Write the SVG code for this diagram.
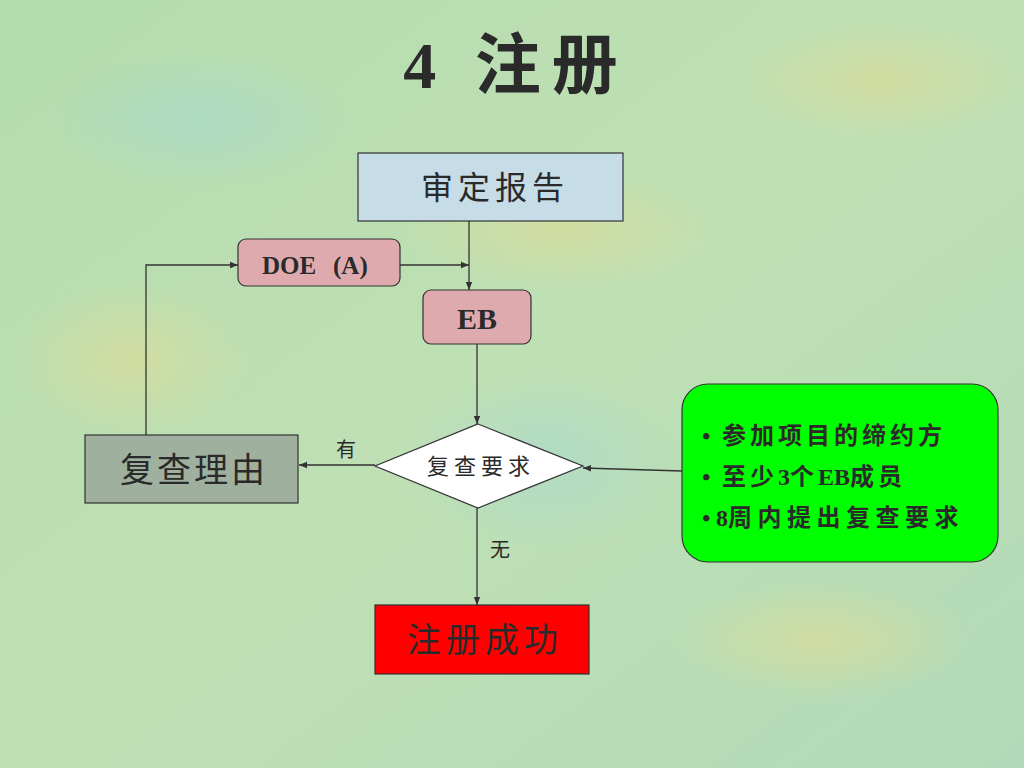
<svg xmlns="http://www.w3.org/2000/svg" width="1024" height="768" viewBox="0 0 1024 768">
<defs>
<linearGradient id="bg" x1="0" y1="0" x2="1" y2="1">
<stop offset="0" stop-color="#b4dcae"/>
<stop offset="0.5" stop-color="#bfe0b4"/>
<stop offset="1" stop-color="#b2dab8"/>
</linearGradient>
<radialGradient id="y1"><stop offset="0" stop-color="#d8dc9c" stop-opacity="0.8"/><stop offset="1" stop-color="#d8dc9c" stop-opacity="0"/></radialGradient>
<radialGradient id="b1"><stop offset="0" stop-color="#a8d8d0" stop-opacity="0.6"/><stop offset="1" stop-color="#a8d8d0" stop-opacity="0"/></radialGradient>
<marker id="ah" viewBox="0 0 10 10" refX="10" refY="5" markerWidth="8" markerHeight="8" markerUnits="userSpaceOnUse" orient="auto">
<path d="M0,1 L10,5 L0,9 z" fill="#333"/>
</marker>
<style>
.t{font-family:"Liberation Serif","Noto Sans CJK SC",serif;fill:#2a2a2a;text-anchor:middle}
.b{font-weight:bold}
.ln{stroke:#333;stroke-width:1.3;fill:none}
.box{stroke:#333;stroke-width:1.2}
.g{font-family:"Liberation Serif","Noto Sans CJK SC",serif;font-weight:bold;fill:#2a2a2a;font-size:24px}
.cj{letter-spacing:4px}
</style>
</defs>
<rect width="1024" height="768" fill="url(#bg)"/>
<ellipse cx="560" cy="230" rx="160" ry="60" fill="url(#y1)"/>
<ellipse cx="130" cy="360" rx="120" ry="80" fill="url(#y1)"/>
<ellipse cx="820" cy="640" rx="150" ry="60" fill="url(#y1)"/>
<ellipse cx="880" cy="80" rx="150" ry="60" fill="url(#y1)"/>
<ellipse cx="540" cy="460" rx="140" ry="90" fill="url(#b1)"/>
<ellipse cx="200" cy="120" rx="150" ry="70" fill="url(#b1)"/>

<text class="t b" x="516" y="88" font-size="66" letter-spacing="11">4  注册</text>

<g id="connectors">
<line class="ln" x1="469" y1="221" x2="469" y2="290" marker-end="url(#ah)"/>
<line class="ln" x1="400" y1="265" x2="469" y2="265" marker-end="url(#ah)"/>
<polyline class="ln" points="146,435 146,265 238,265" marker-end="url(#ah)"/>
<line class="ln" x1="477" y1="344" x2="477" y2="424" marker-end="url(#ah)"/>
<line class="ln" x1="375" y1="465" x2="299" y2="465" marker-end="url(#ah)"/>
<line class="ln" x1="682" y1="471" x2="583" y2="468" marker-end="url(#ah)"/>
<line class="ln" x1="477" y1="508" x2="477" y2="605" marker-end="url(#ah)"/>
<text class="t" x="346" y="457" font-size="20">有</text>
<text class="t" x="500" y="557" font-size="20">无</text>
</g>

<g id="audit">
<rect class="box" x="358" y="153" width="265" height="68" fill="#c6dce6"/>
<text class="t" x="495" y="199" font-size="32" letter-spacing="5">审定报告</text>
</g>
<g id="doe">
<rect class="box" x="238" y="239" width="162" height="47" rx="8" fill="#dfaaad"/>
<text class="t b" x="319" y="274" font-size="25" style="text-anchor:start"><tspan x="262">DOE</tspan><tspan x="333">(A)</tspan></text>
</g>
<g id="eb">
<rect class="box" x="423" y="290" width="108" height="54" rx="8" fill="#dfaaad"/>
<text class="t b" x="477" y="329" font-size="30">EB</text>
</g>
<g id="decision">
<polygon class="box" points="478,424 583,466 478,508 375,466" fill="#ffffff"/>
<text class="t" x="481" y="474" font-size="22" letter-spacing="5">复查要求</text>
</g>
<g id="reason">
<rect class="box" x="85" y="435" width="213" height="68" fill="#9fb09f"/>
<text class="t" x="194" y="482" font-size="34" letter-spacing="3">复查理由</text>
</g>
<g id="conditions">
<rect class="box" x="682" y="384" width="316" height="178" rx="26" fill="#00ff00"/>
<text class="g" x="702" y="444">•<tspan x="722" class="cj">参加项目的缔约方</tspan></text>
<text class="g" x="702" y="485">•<tspan x="722" class="cj">至少</tspan>3<tspan class="cj">个</tspan>EB<tspan class="cj">成员</tspan></text>
<text class="g" x="702" y="526">•<tspan x="716">8</tspan><tspan style="letter-spacing:5.5px">周内提出复查要求</tspan></text>
</g>
<g id="success">
<rect class="box" x="375" y="605" width="214" height="69" fill="#ff0000"/>
<text class="t" x="485" y="652" font-size="34" letter-spacing="5">注册成功</text>
</g>
</svg>
